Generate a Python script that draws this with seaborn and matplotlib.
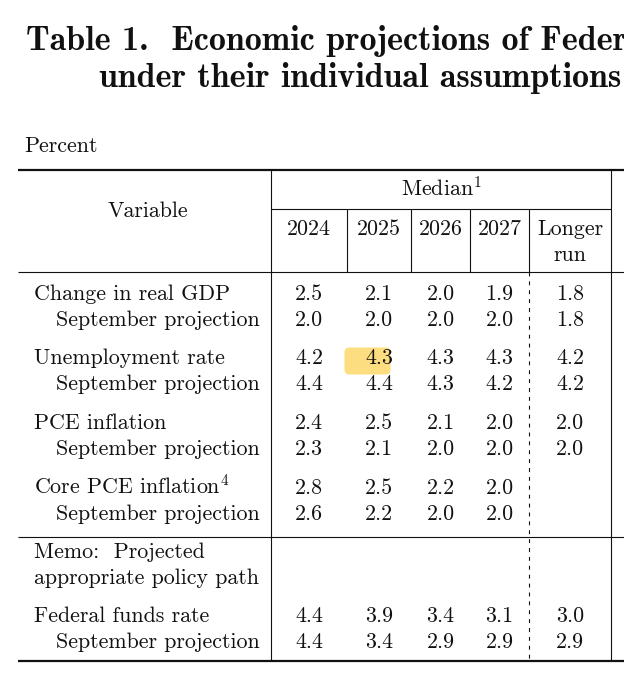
import matplotlib
matplotlib.use("Agg")
import matplotlib.pyplot as plt
import seaborn as sns
from matplotlib.patches import FancyBboxPatch

# Datos de la tabla (mediana, puntos porcentuales)
columnas = ["2024", "2025", "2026", "2027", "Longer\nrun"]
variables = ["Change in real GDP", "Unemployment rate", "PCE inflation",
             "Core PCE inflation$^4$"]
pib = [2.5, 2.1, 2.0, 1.9, 1.8]
pib_sep = [2.0, 2.0, 2.0, 2.0, 1.8]
desempleo = [4.2, 4.3, 4.3, 4.3, 4.2]
desempleo_sep = [4.4, 4.4, 4.3, 4.2, 4.2]
pce = [2.4, 2.5, 2.1, 2.0, 2.0]
pce_sep = [2.3, 2.1, 2.0, 2.0, 2.0]
pce_sub = [2.8, 2.5, 2.2, 2.0, None]
pce_sub_sep = [2.6, 2.2, 2.0, 2.0, None]
tasa_fed = [4.4, 3.9, 3.4, 3.1, 3.0]
tasa_fed_sep = [4.4, 3.4, 2.9, 2.9, 2.9]

sns.set_theme(style="white")
plt.rcParams["font.family"] = ["cmr10", "DejaVu Serif"]
plt.rcParams["mathtext.fontset"] = "cm"
plt.rcParams["axes.unicode_minus"] = False

fig = plt.figure(figsize=(6.24, 6.8), dpi=100)
ax = fig.add_axes([0, 0, 1, 1])
ax.set_xlim(0, 624)
ax.set_ylim(680, 0)
ax.axis("off")

fs = 15.8
tinta = "#111111"

# Titulo (cortado por el borde, como en la captura)
ax.text(26, 50, "Table 1.  Economic projections of Federal",
        fontsize=24.5, family="cmb10", color=tinta, va="baseline")
ax.text(99, 87, "under their individual assumptions",
        fontsize=24.5, family="cmb10", color=tinta, va="baseline")
ax.text(24, 152, "Percent", fontsize=fs, color=tinta, va="baseline")

# Bordes de columnas
bordes = [271, 347, 411, 470, 529, 611]
centros = [(a + b) / 2 for a, b in zip(bordes[:-1], bordes[1:])]

# Reglas
ax.hlines(170, 18, 624, color=tinta, lw=1.6)
ax.hlines(209, 271, 611, color=tinta, lw=0.8)
ax.hlines(272, 18, 624, color=tinta, lw=0.8)
ax.hlines(537, 18, 624, color=tinta, lw=0.8)
ax.hlines(661, 18, 624, color=tinta, lw=1.6)
ax.vlines([271, 611], 170, 661, color=tinta, lw=0.8)
ax.vlines(bordes[1:5], 209, 272, color=tinta, lw=0.8)
ax.vlines(529, 272, 661, color=tinta, lw=0.8, linestyles=(0, (3.5, 4.5)))

# Encabezado
ax.text(148, 211, "Variable", fontsize=fs, color=tinta, ha="center", va="center")
ax.text((271 + 611) / 2, 196, "Median$^1$", fontsize=fs, color=tinta,
        ha="center", va="baseline")
for c, etiqueta in zip(centros, columnas):
    for k, parte in enumerate(etiqueta.split("\n")):
        ax.text(c, 235 + 26 * k, parte, fontsize=fs, color=tinta,
                ha="center", va="baseline")

# Resaltado amarillo
ax.add_patch(FancyBboxPatch((346, 349), 43, 24, boxstyle="round,pad=1.5,rounding_size=5",
                            facecolor="#fcd560", edgecolor="none", alpha=0.8, zorder=0))

# Filas
grupos = [
    (variables[0], pib, pib_sep, 300),
    (variables[1], desempleo, desempleo_sep, 364),
    (variables[2], pce, pce_sep, 429),
    (variables[3], pce_sub, pce_sub_sep, 494),
    ("Federal funds rate", tasa_fed, tasa_fed_sep, 622),
]
for nombre, vals, vals_sep, y in grupos:
    ax.text(34, y, nombre, fontsize=fs, color=tinta, va="baseline")
    ax.text(56, y + 26, "September projection", fontsize=fs, color=tinta, va="baseline")
    for c, v, vs in zip(centros, vals, vals_sep):
        if v is not None:
            ax.text(c, y, f"{v:.1f}", fontsize=fs, color=tinta, ha="center", va="baseline")
        if vs is not None:
            ax.text(c, y + 26, f"{vs:.1f}", fontsize=fs, color=tinta, ha="center", va="baseline")

ax.text(34, 558, "Memo:  Projected", fontsize=fs, color=tinta, va="baseline")
ax.text(34, 584, "appropriate policy path", fontsize=fs, color=tinta, va="baseline")

fig.savefig("out.png", dpi=100)
